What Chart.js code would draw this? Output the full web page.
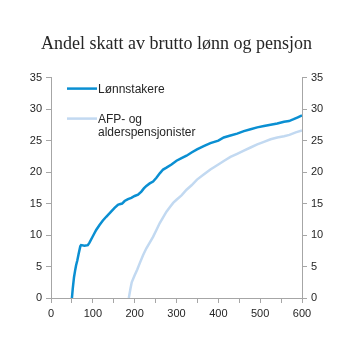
<!DOCTYPE html>
<html>
<head>
<meta charset="utf-8">
<script src="https://cdn.jsdelivr.net/npm/chart.js@4"></script>
<style>
html,body{margin:0;padding:0;background:#fff;}
canvas{display:block;}
</style>
</head>
<body>
<canvas id="c" width="353" height="353"></canvas>
<script>
const titleText = "Andel skatt av brutto lønn og pensjon";
const seriesNames = ["Lønnstakere", "AFP- og alderspensjonister"];
const legendLines = [["Lønnstakere"], ["AFP- og", "alderspensjonister"]];

const wageX = [50,52,55,58,60,63,66,70,72,80,88,92,100,108,116,124,132,142,152,160,164,170,176,184,192,200,208,216,222,228,236,244,252,260,268,276,288,300,312,324,336,349,365,381,400,413,429,445,461,477,493,509,525,541,557,569,580,590,600];
const wageY = [0,1.5,3.3,4.5,5.2,6.0,7.0,8.2,8.4,8.3,8.4,8.8,9.8,10.8,11.6,12.3,12.9,13.6,14.3,14.8,14.9,15.0,15.4,15.7,15.9,16.2,16.4,16.9,17.4,17.8,18.2,18.5,19.1,19.8,20.4,20.7,21.2,21.8,22.2,22.6,23.1,23.6,24.1,24.6,25.0,25.5,25.8,26.1,26.5,26.8,27.1,27.3,27.5,27.7,28.0,28.1,28.4,28.7,29.0];

const pensX = [186,190,193,200,206,212,220,228,236,244,252,260,268,276,284,292,300,312,324,336,349,365,381,400,414,429,445,461,477,493,509,525,541,557,570,585,600];
const pensY = [0,1.5,2.5,3.6,4.5,5.5,6.8,7.9,8.8,9.7,10.8,11.9,12.8,13.7,14.4,15.1,15.6,16.3,17.2,17.9,18.8,19.6,20.4,21.2,21.8,22.4,22.9,23.4,23.9,24.4,24.8,25.2,25.5,25.7,25.9,26.3,26.6];

const xTickLabels = [0,100,200,300,400,500,600];
const yTickLabels = [0,5,10,15,20,25,30,35];

const colors = ["#0a8fd2", "#c2d9f1"];
const axisColor = "#a6a6a6";
const textColor = "#262626";
const tickFont = {family: "'Liberation Sans', Arial, sans-serif", size: 11};

const legendPlugin = {
  id: 'innerLegend',
  afterDatasetsDraw(chart) {
    const ctx = chart.ctx;
    const a = chart.chartArea;
    const x0 = a.left + 16, x1 = a.left + 46, tx = a.left + 47;
    const rows = [a.top + 11, a.top + 41];
    ctx.save();
    ctx.font = "12px 'Liberation Sans', Arial, sans-serif";
    ctx.fillStyle = textColor;
    ctx.textBaseline = 'middle';
    ctx.textAlign = 'left';
    legendLines.forEach((lines, i) => {
      const y = rows[i];
      ctx.strokeStyle = chart.data.datasets[i].borderColor;
      ctx.lineWidth = 2.5;
      ctx.beginPath(); ctx.moveTo(x0, y); ctx.lineTo(x1, y); ctx.stroke();
      lines.forEach((t, j) => ctx.fillText(t, tx, y + 1 + j * 13));
    });
    ctx.restore();
  }
};

function yAxis(pos) {
  return {
    type: 'linear', position: pos, min: 0, max: 35,
    afterFit(s) { s.width = 51; },
    ticks: {stepSize: 5, color: textColor, font: tickFont, padding: 4,
      callback: v => yTickLabels.includes(v) ? String(v) : ''},
    grid: {drawOnChartArea: false, drawTicks: true, tickLength: 5, color: axisColor},
    border: {display: true, color: axisColor}
  };
}

new Chart(document.getElementById('c'), {
  type: 'line',
  data: {
    datasets: [
      {label: seriesNames[0], data: wageX.map((x, i) => ({x, y: wageY[i]})), borderColor: colors[0], borderWidth: 2.5, pointRadius: 0, tension: 0, fill: false},
      {label: seriesNames[1], data: pensX.map((x, i) => ({x, y: pensY[i]})), borderColor: colors[1], borderWidth: 2.5, pointRadius: 0, tension: 0, fill: false}
    ]
  },
  options: {
    responsive: false, animation: false, devicePixelRatio: 1,
    layout: {padding: 0},
    plugins: {
      legend: {display: false},
      tooltip: {enabled: false},
      title: {display: true, text: titleText, color: textColor,
        font: {family: "'Liberation Serif', 'Times New Roman', serif", size: 18, weight: 'normal'},
        padding: {top: 33, bottom: 23}}
    },
    scales: {
      x: {
        type: 'linear', min: 0, max: 600,
        afterFit(s) { s.height = 55; },
        ticks: {stepSize: 50, color: textColor, font: tickFont, padding: 4, maxRotation: 0, autoSkip: false,
          callback: v => xTickLabels.includes(v) ? String(v) : ''},
        grid: {drawOnChartArea: false, drawTicks: true, tickLength: 5, color: axisColor},
        border: {display: true, color: axisColor}
      },
      y: yAxis('left'),
      y2: yAxis('right')
    }
  },
  plugins: [legendPlugin]
});
</script>
</body>
</html>
